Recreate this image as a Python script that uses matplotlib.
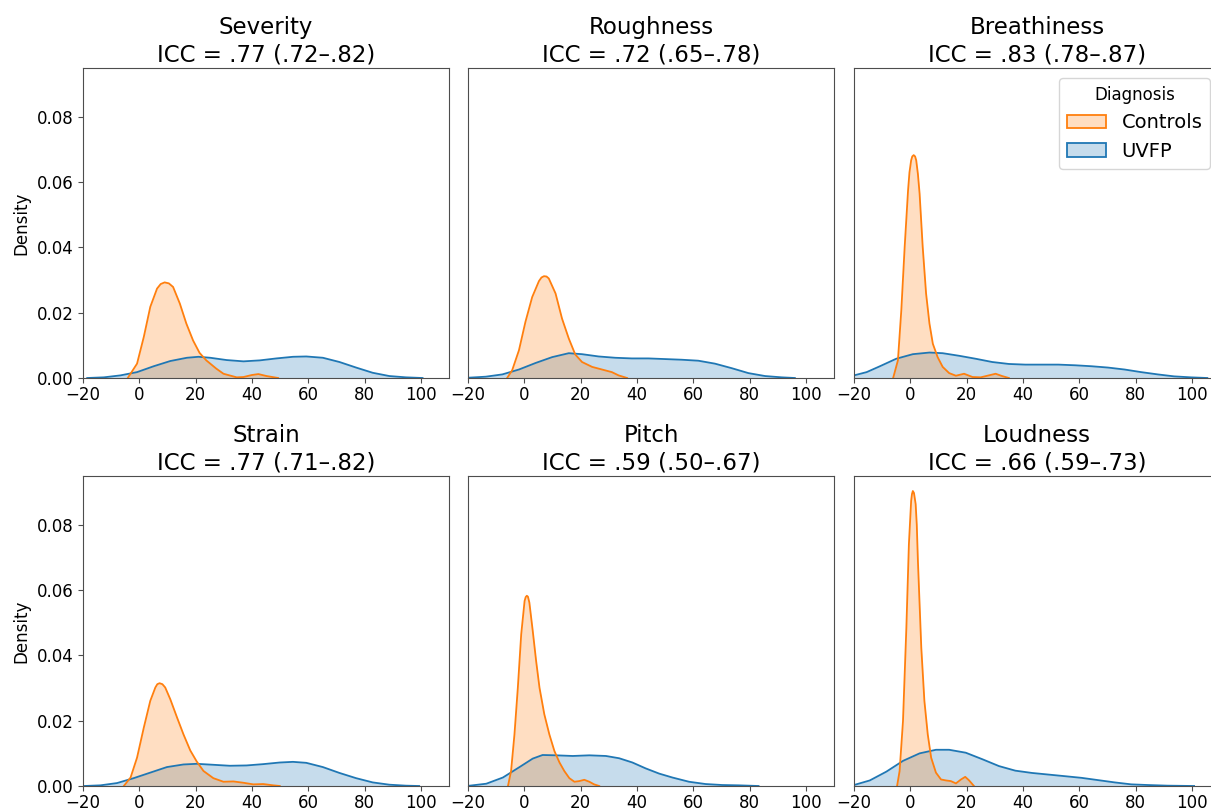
import matplotlib
matplotlib.use("Agg")
import matplotlib.pyplot as plt
from matplotlib.patches import Patch

# values (rating scale, kde density)
severity_ctrl_x = [-4.1, -0.8, 1.6, 3.9, 6.3, 7.6, 9.0, 10.5, 12.0, 14.4, 16.7, 19.1, 21.4, 23.8, 27.3, 29.9, 34.6, 37.0, 39.9, 42.3, 45.2, 49.3]
severity_ctrl_y = [0.0, 0.0044, 0.0126, 0.0218, 0.0274, 0.0288, 0.0293, 0.0290, 0.0279, 0.0228, 0.0167, 0.0115, 0.0077, 0.0054, 0.0029, 0.0013, 0.0002, 0.0003, 0.0009, 0.0012, 0.0006, 0.0]
severity_uvfp_x = [-18.5, -12.6, -6.7, -0.8, 5.1, 11.0, 16.9, 21.0, 25.2, 31.0, 37.0, 42.8, 48.7, 54.6, 59.3, 65.2, 71.1, 77.0, 82.9, 88.8, 94.7, 100.6]
severity_uvfp_y = [0.0, 0.0002, 0.0008, 0.0018, 0.0036, 0.0052, 0.0062, 0.0065, 0.0062, 0.0055, 0.0051, 0.0054, 0.0060, 0.0065, 0.0066, 0.0062, 0.0049, 0.0032, 0.0016, 0.0006, 0.0002, 0.0]

roughness_ctrl_x = [-6.1, -4.3, -1.9, 0.4, 2.8, 5.2, 6.1, 7.0, 7.9, 8.7, 11.1, 13.4, 15.8, 18.1, 20.5, 24.1, 27.6, 31.1, 33.5, 36.5]
roughness_ctrl_y = [0.0, 0.0024, 0.0085, 0.0172, 0.0248, 0.0297, 0.0308, 0.0312, 0.0311, 0.0305, 0.0259, 0.0182, 0.0121, 0.0072, 0.0049, 0.0034, 0.0026, 0.0018, 0.0008, 0.0]
roughness_uvfp_x = [-19.6, -13.7, -7.8, -1.9, 4.0, 9.9, 15.8, 20.5, 26.4, 32.3, 38.2, 44.1, 50.0, 55.9, 61.8, 67.7, 73.7, 79.6, 85.5, 91.4, 96.1]
roughness_uvfp_y = [0.0001, 0.0004, 0.0011, 0.0026, 0.0046, 0.0064, 0.0076, 0.0073, 0.0066, 0.0062, 0.0060, 0.0060, 0.0058, 0.0056, 0.0053, 0.0044, 0.0030, 0.0015, 0.0006, 0.0002, 0.0]

breath_ctrl_x = [-6.1, -4.4, -3.2, -2.0, -0.8, -0.3, 0.3, 0.7, 1.2, 1.7, 2.1, 2.7, 3.3, 4.4, 5.6, 6.8, 8.0, 9.7, 11.5, 13.8, 16.2, 19.1, 22.1, 25.0, 27.4, 30.3, 32.6, 35.0]
breath_ctrl_y = [0.0, 0.0054, 0.0207, 0.0402, 0.0575, 0.0630, 0.0667, 0.0679, 0.0683, 0.0679, 0.0667, 0.0625, 0.0565, 0.0402, 0.0259, 0.0167, 0.0105, 0.0064, 0.0034, 0.0015, 0.0007, 0.0013, 0.0003, 0.0002, 0.0007, 0.0013, 0.0006, 0.0]
breath_uvfp_x = [-22.0, -20.0, -15.5, -10.8, -5.0, 0.9, 6.8, 11.5, 17.4, 23.2, 29.1, 35.0, 40.9, 46.8, 52.6, 58.5, 64.4, 70.2, 76.1, 82.0, 87.9, 93.7, 99.6, 105.5]
breath_uvfp_y = [0.0006, 0.0008, 0.0018, 0.0036, 0.0059, 0.0073, 0.0078, 0.0076, 0.0068, 0.0059, 0.0049, 0.0043, 0.0041, 0.0041, 0.0041, 0.0039, 0.0036, 0.0032, 0.0026, 0.0018, 0.0011, 0.0005, 0.0002, 0.0]

strain_ctrl_x = [-5.5, -3.1, -0.8, 1.6, 3.9, 5.7, 6.4, 7.2, 8.2, 9.2, 11.0, 13.4, 15.7, 18.1, 20.4, 22.8, 26.3, 29.9, 33.4, 36.9, 40.5, 44.0, 47.6, 49.9]
strain_ctrl_y = [0.0, 0.0026, 0.0087, 0.0179, 0.0261, 0.0302, 0.0312, 0.0315, 0.0312, 0.0302, 0.0266, 0.0210, 0.0158, 0.0109, 0.0075, 0.0046, 0.0024, 0.0013, 0.0014, 0.0010, 0.0005, 0.0006, 0.0002, 0.0]
strain_uvfp_x = [-19.6, -13.8, -7.9, -2.0, 3.9, 9.8, 15.7, 20.4, 26.3, 32.2, 38.1, 44.0, 49.9, 54.6, 59.3, 65.2, 71.1, 77.0, 82.9, 88.8, 94.7, 99.4]
strain_uvfp_y = [0.0, 0.0002, 0.0009, 0.0024, 0.0041, 0.0058, 0.0066, 0.0068, 0.0065, 0.0062, 0.0063, 0.0067, 0.0072, 0.0074, 0.0071, 0.0058, 0.0040, 0.0024, 0.0011, 0.0004, 0.0001, 0.0]

pitch_ctrl_x = [-5.8, -4.7, -3.5, -2.3, -1.1, 0.1, 0.5, 0.9, 1.3, 1.8, 3.0, 4.2, 5.4, 7.1, 8.9, 10.7, 12.5, 14.2, 16.0, 17.8, 19.5, 21.3, 23.1, 24.8, 26.6]
pitch_ctrl_y = [0.0, 0.0046, 0.0158, 0.0301, 0.0465, 0.0567, 0.0579, 0.0583, 0.0580, 0.0562, 0.0475, 0.0383, 0.0301, 0.0220, 0.0158, 0.0107, 0.0072, 0.0046, 0.0024, 0.0013, 0.0015, 0.0019, 0.0013, 0.0005, 0.0]
pitch_uvfp_x = [-19.4, -13.5, -7.6, -1.7, 3.0, 6.5, 11.3, 17.2, 23.1, 29.0, 33.7, 38.4, 43.1, 47.9, 52.6, 58.5, 64.4, 70.3, 76.2, 83.2]
pitch_uvfp_y = [0.0001, 0.0007, 0.0026, 0.0058, 0.0084, 0.0095, 0.0094, 0.0092, 0.0094, 0.0092, 0.0085, 0.0072, 0.0054, 0.0038, 0.0026, 0.0013, 0.0006, 0.0003, 0.0002, 0.0]

loud_ctrl_x = [-4.7, -3.8, -2.6, -1.4, -0.5, 0.3, 0.6, 0.9, 1.3, 1.9, 2.3, 2.7, 3.9, 5.0, 6.2, 7.4, 9.1, 10.9, 12.7, 14.4, 16.2, 18.0, 19.5, 20.9, 22.6]
loud_ctrl_y = [0.0, 0.0046, 0.0199, 0.0485, 0.0741, 0.0874, 0.0895, 0.0904, 0.0898, 0.0864, 0.0800, 0.0690, 0.0424, 0.0261, 0.0158, 0.0087, 0.0041, 0.0020, 0.0017, 0.0015, 0.0008, 0.0020, 0.0028, 0.0017, 0.0]
loud_uvfp_x = [-22.0, -20.0, -14.4, -8.5, -2.6, 3.3, 9.1, 13.8, 19.7, 25.6, 31.5, 37.3, 43.2, 49.1, 55.0, 60.8, 66.7, 72.6, 78.5, 84.3, 91.4, 100.8]
loud_uvfp_y = [0.0002, 0.0003, 0.0017, 0.0044, 0.0077, 0.0100, 0.0111, 0.0111, 0.0102, 0.0082, 0.0061, 0.0047, 0.0040, 0.0035, 0.0030, 0.0025, 0.0018, 0.0011, 0.0005, 0.0003, 0.0001, 0.0]

titles = ["Severity", "Roughness", "Breathiness", "Strain", "Pitch", "Loudness"]
icc_labels = [".77 (.72\u2013.82)", ".72 (.65\u2013.78)", ".83 (.78\u2013.87)",
              ".77 (.71\u2013.82)", ".59 (.50\u2013.67)", ".66 (.59\u2013.73)"]
groups = ["Controls", "UVFP"]

curves = [
    (severity_ctrl_x, severity_ctrl_y, severity_uvfp_x, severity_uvfp_y),
    (roughness_ctrl_x, roughness_ctrl_y, roughness_uvfp_x, roughness_uvfp_y),
    (breath_ctrl_x, breath_ctrl_y, breath_uvfp_x, breath_uvfp_y),
    (strain_ctrl_x, strain_ctrl_y, strain_uvfp_x, strain_uvfp_y),
    (pitch_ctrl_x, pitch_ctrl_y, pitch_uvfp_x, pitch_uvfp_y),
    (loud_ctrl_x, loud_ctrl_y, loud_uvfp_x, loud_uvfp_y),
]

ORANGE = "#ff7f0e"
BLUE = "#1f77b4"

fig = plt.figure(figsize=(12.11, 8.10), dpi=100)

W, H = 1211, 810
lefts = [83, 468, 854]
tops = [68, 476]
aw, ah = 366, 310

for i, (cx, cy, ux, uy) in enumerate(curves):
    r, c = divmod(i, 3)
    ax = fig.add_axes([lefts[c] / W, (H - tops[r] - ah) / H, aw / W, ah / H])

    for xs, ys, col in [(ux, uy, BLUE), (cx, cy, ORANGE)]:
        ax.fill_between(xs, ys, 0, color=col, alpha=0.25, linewidth=0)
        ax.plot(xs, ys, color=col, linewidth=1.3, solid_joinstyle="round")

    ax.set_xlim(-20, 110)
    ax.set_ylim(0, 0.095)
    ax.set_xticks([-20, 0, 20, 40, 60, 80, 100])
    ax.set_title(f"{titles[i]}\nICC = {icc_labels[i]}", fontsize=16.5, pad=5)
    ax.tick_params(labelsize=12, color="0.3")
    ax.tick_params(axis="x", pad=2)
    for sp in ax.spines.values():
        sp.set_color("0.3")

    if c == 0:
        ax.set_yticks([0.0, 0.02, 0.04, 0.06, 0.08])
        ax.set_yticklabels([f"{v:.2f}" for v in [0.0, 0.02, 0.04, 0.06, 0.08]])
        ax.set_ylabel("Density", fontsize=12)
    else:
        ax.tick_params(left=False, labelleft=False)

    if i == 2:
        handles = [Patch(facecolor=(1.0, 0.498, 0.055, 0.25), edgecolor=ORANGE, linewidth=1.3),
                   Patch(facecolor=(0.122, 0.467, 0.706, 0.25), edgecolor=BLUE, linewidth=1.3)]
        ax.legend(handles, groups, title="Diagnosis", loc="upper right",
                  fontsize=14, title_fontsize=12)

fig.savefig("out.png", dpi=100)
